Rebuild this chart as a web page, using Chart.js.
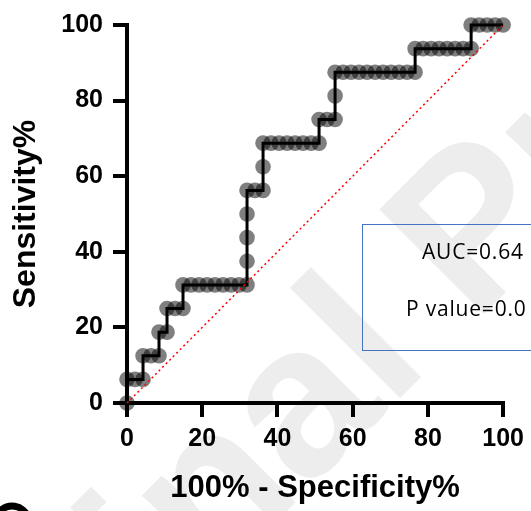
<!DOCTYPE html>
<html><head><meta charset="utf-8">
<script src="https://cdn.jsdelivr.net/npm/chart.js@4.4.1/dist/chart.umd.min.js"></script>
<style>html,body{margin:0;padding:0;background:#fff;overflow:hidden}#wrap{width:531px;height:511px;position:relative}</style>
</head><body><div id="wrap"><canvas id="c" width="531" height="511"></canvas></div>
<script>
// ROC curve points (x = 100% - Specificity%, y = Sensitivity%)
const specificity = [0,
  0, 2.13, 4.26,
  4.26, 6.38, 8.51,
  8.51, 10.64,
  10.64, 12.77, 14.89,
  14.89, 17.02, 19.15, 21.28, 23.40, 25.53, 27.66, 29.79, 31.91,
  31.91, 31.91, 31.91,
  31.91, 34.04, 36.17,
  36.17,
  36.17, 38.30, 40.43, 42.55, 44.68, 46.81, 48.94, 51.06,
  51.06, 53.19, 55.32,
  55.32,
  55.32, 57.45, 59.57, 61.70, 63.83, 65.96, 68.09, 70.21, 72.34, 74.47, 76.60,
  76.60, 78.72, 80.85, 82.98, 85.11, 87.23, 89.36, 91.49,
  91.49, 93.62, 95.74, 97.87, 100];
const sensitivity = [0,
  6.25, 6.25, 6.25,
  12.5, 12.5, 12.5,
  18.75, 18.75,
  25, 25, 25,
  31.25, 31.25, 31.25, 31.25, 31.25, 31.25, 31.25, 31.25, 31.25,
  37.5, 43.75, 50,
  56.25, 56.25, 56.25,
  62.5,
  68.75, 68.75, 68.75, 68.75, 68.75, 68.75, 68.75, 68.75,
  75, 75, 75,
  81.25,
  87.5, 87.5, 87.5, 87.5, 87.5, 87.5, 87.5, 87.5, 87.5, 87.5, 87.5,
  93.75, 93.75, 93.75, 93.75, 93.75, 93.75, 93.75, 93.75,
  100, 100, 100, 100, 100];
const diagX = [0, 100];
const diagY = [0, 100];
const tickValues = [0, 20, 40, 60, 80, 100];
const xTitle = '100% - Specificity%';
const yTitle = 'Sensitivity%';
const aucText = 'AUC=0.64';
const pText = 'P value=0.0';
const watermark = 'Original Proof';

const rocPts = specificity.map((x, i) => ({x: x, y: sensitivity[i]}));
const diagPts = diagX.map((x, i) => ({x: x, y: diagY[i]}));

const bgPlugin = {
  id: 'bg',
  beforeDraw(chart) {
    const ctx = chart.ctx;
    ctx.save();
    ctx.fillStyle = '#fff';
    ctx.fillRect(0, 0, chart.width, chart.height);
    // watermark
    ctx.font = 'bold 215px "Liberation Sans", Arial, sans-serif';
    ctx.fillStyle = '#ededed';
    ctx.translate(400, 398);
    ctx.rotate(-Math.PI / 4);
    const pre = ctx.measureText('Origina').width;
    ctx.textBaseline = 'alphabetic';
    ctx.fillText(watermark, -pre - 15, 0);
    ctx.restore();
  },
  afterDraw(chart) {
    const ctx = chart.ctx;
    ctx.save();
    // info box
    ctx.strokeStyle = '#4472C4';
    ctx.lineWidth = 1;
    ctx.strokeRect(362.5, 224.5, 200, 126);
    ctx.fillStyle = '#000';
    ctx.font = '21px "Open Sans", sans-serif';
    try { ctx.letterSpacing = '0.8px'; } catch (e) {}
    ctx.textBaseline = 'alphabetic';
    ctx.textAlign = 'left';
    ctx.fillText(aucText, 422, 259);
    ctx.fillText(pText, 406, 316);
    // corner mark
    ctx.beginPath();
    ctx.lineWidth = 7;
    ctx.strokeStyle = '#000';
    ctx.arc(12, 523, 17, Math.PI * 1.05, Math.PI * 1.9);
    ctx.stroke();
    ctx.restore();
  }
};

const tickFont = {family: '"Liberation Sans", Arial, sans-serif', weight: 'bold', size: 25};
const xTitleFont = {family: '"Liberation Sans", Arial, sans-serif', weight: 'bold', size: 31};
const yTitleFont = {family: '"Liberation Sans", Arial, sans-serif', weight: 'bold', size: 32};

new Chart(document.getElementById('c'), {
  type: 'scatter',
  data: {
    datasets: [
      {data: diagPts, showLine: true, borderColor: '#ff0000', borderWidth: 1.5, borderDash: [2, 3],
       pointRadius: 0, order: 1, clip: false},
      {data: rocPts, showLine: true, borderColor: '#000', borderWidth: 3, pointRadius: 0,
       order: 2, clip: false},
      {data: rocPts, showLine: false, pointRadius: 7.8, pointBackgroundColor: 'rgba(0,0,0,0.5)',
       pointBorderWidth: 0, pointBorderColor: 'rgba(0,0,0,0)', order: 3, clip: false}
    ]
  },
  options: {
    responsive: false, animation: false, devicePixelRatio: 1,
    layout: {padding: {left: 0, top: 23, right: 24, bottom: 0}},
    plugins: {legend: {display: false}, tooltip: {enabled: false}},
    scales: {
      x: {
        type: 'linear', min: 0, max: 100,
        afterFit(s) { s.height = 108; },
        afterBuildTicks(s) { s.ticks = tickValues.map(v => ({value: v})); },
        grid: {display: true, drawOnChartArea: false, drawTicks: true, tickLength: 14, lineWidth: 4, tickWidth: 4, color: '#000', tickColor: '#000'},
        border: {display: true, width: 4, color: '#000'},
        ticks: {font: tickFont, color: '#000', padding: 7, maxRotation: 0},
        title: {display: true, text: xTitle, font: xTitleFont, color: '#000', padding: {top: 0, bottom: 4}}
      },
      y: {
        type: 'linear', min: 0, max: 100,
        afterFit(s) { s.width = 127; },
        afterBuildTicks(s) { s.ticks = tickValues.map(v => ({value: v})); },
        grid: {display: true, drawOnChartArea: false, drawTicks: true, tickLength: 14, lineWidth: 4, tickWidth: 4, color: '#000', tickColor: '#000'},
        border: {display: true, width: 4, color: '#000'},
        ticks: {font: tickFont, color: '#000', padding: 10},
        title: {display: true, text: yTitle, font: yTitleFont, color: '#000', padding: {top: 7, bottom: 0}}
      }
    }
  },
  plugins: [bgPlugin]
});
</script></body></html>
